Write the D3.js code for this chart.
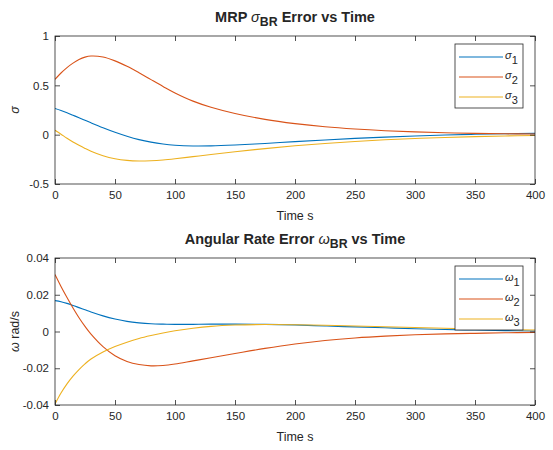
<!DOCTYPE html>
<html>
<head>
<meta charset="utf-8">
<script src="https://cdn.jsdelivr.net/npm/d3@7"></script>
<style>
  body { margin: 0; background: #fff; }
  text { font-family: "Liberation Sans", Arial, sans-serif; fill: #262626; }
</style>
</head>
<body>
<div id="chart"></div>
<script>
// time samples (s)
const timeS = [0, 5, 10, 15, 20, 25, 30, 40, 50, 60, 70, 80, 90, 100, 115, 130, 150, 175, 200, 225, 250, 275, 300, 325, 350, 375, 400];

// MRP error components
const sigma1 = [0.265, 0.245, 0.222, 0.197, 0.172, 0.146, 0.12, 0.07, 0.024, -0.016, -0.05, -0.076, -0.095, -0.107, -0.115, -0.114, -0.105, -0.089, -0.071, -0.054, -0.038, -0.025, -0.013, -0.004, 0.004, 0.009, 0.013];
const sigma2 = [0.56, 0.625, 0.68, 0.725, 0.762, 0.786, 0.797, 0.787, 0.748, 0.693, 0.628, 0.558, 0.489, 0.423, 0.34, 0.278, 0.215, 0.155, 0.112, 0.08, 0.057, 0.04, 0.028, 0.019, 0.013, 0.009, 0.006];
const sigma3 = [0.045, 0.005, -0.036, -0.074, -0.108, -0.139, -0.167, -0.213, -0.244, -0.261, -0.267, -0.264, -0.256, -0.244, -0.223, -0.201, -0.173, -0.141, -0.113, -0.089, -0.069, -0.052, -0.039, -0.028, -0.02, -0.013, -0.008];

// angular rate error components (rad/s)
const omega1 = [0.0168, 0.0162, 0.0153, 0.0142, 0.013, 0.0118, 0.0106, 0.0085, 0.0068, 0.0055, 0.0047, 0.0042, 0.004, 0.0039, 0.0039, 0.004, 0.004, 0.0039, 0.0036, 0.003, 0.0025, 0.002, 0.0015, 0.0011, 0.0008, 0.0005, 0.0003];
const omega2 = [0.031, 0.0245, 0.0185, 0.0128, 0.0075, 0.0028, -0.0014, -0.0082, -0.0132, -0.0163, -0.018, -0.0187, -0.0185, -0.0177, -0.016, -0.0143, -0.012, -0.0092, -0.0068, -0.0049, -0.0035, -0.0025, -0.0018, -0.0013, -0.001, -0.0007, -0.0005];
const omega3 = [-0.0395, -0.0335, -0.0285, -0.0243, -0.0207, -0.0176, -0.015, -0.0112, -0.0082, -0.0058, -0.0038, -0.0022, -0.0008, 0.0004, 0.0018, 0.0028, 0.0035, 0.0038, 0.0037, 0.0034, 0.003, 0.0026, 0.0022, 0.0018, 0.0014, 0.0011, 0.0008];

const xTicks = [0, 50, 100, 150, 200, 250, 300, 350, 400];
const sigmaTicks = [-0.5, 0, 0.5, 1];
const omegaTicks = [-0.04, -0.02, 0, 0.02, 0.04];

const colors = ["#0072BD", "#D95319", "#EDB120"];

const W = 553, H = 450;
const left = 55, right = 535;

const svg = d3.select("#chart")
  .append("svg")
  .attr("width", W)
  .attr("height", H);

// writes "sym" + subscript into a text node
function symSub(sel, sym, sub) {
  sel.append("tspan").text(sym)
    .style("font-style", "italic")
    .style("font-weight", "normal");
  sel.append("tspan").text(sub)
    .attr("baseline-shift", "-35%")
    .style("font-size", "0.85em");
}

function drawPanel(p) {
  const x = d3.scaleLinear().domain([0, 400]).range([left, right]);
  const y = d3.scaleLinear().domain(p.yDomain).range([p.bottom, p.top]);

  const g = svg.append("g");

  g.append("clipPath").attr("id", p.id + "-clip")
    .append("rect")
    .attr("x", left).attr("y", p.top)
    .attr("width", right - left).attr("height", p.bottom - p.top);

  // series
  const line = d3.line()
    .x((d, i) => x(timeS[i]))
    .y(d => y(d))
    .curve(d3.curveCatmullRom.alpha(0.5));

  g.append("g")
    .attr("clip-path", `url(#${p.id}-clip)`)
    .selectAll("path")
    .data(p.series)
    .enter()
    .append("path")
    .attr("d", d => line(d))
    .attr("fill", "none")
    .attr("stroke", (d, i) => colors[i])
    .attr("stroke-width", 1.1);

  // axes, ticks inward on all four sides
  const tickLen = 5;
  const fmt = d => String(d);

  const xb = g.append("g")
    .attr("transform", `translate(0,${p.bottom})`)
    .call(d3.axisBottom(x).tickValues(xTicks).tickFormat(fmt).tickSizeInner(-tickLen).tickSizeOuter(0).tickPadding(7));
  const xt = g.append("g")
    .attr("transform", `translate(0,${p.top})`)
    .call(d3.axisTop(x).tickValues(xTicks).tickFormat("").tickSizeInner(-tickLen).tickSizeOuter(0));
  const yl = g.append("g")
    .attr("transform", `translate(${left},0)`)
    .call(d3.axisLeft(y).tickValues(p.yTicks).tickFormat(fmt).tickSizeInner(-tickLen).tickSizeOuter(0).tickPadding(6));
  const yr = g.append("g")
    .attr("transform", `translate(${right},0)`)
    .call(d3.axisRight(y).tickValues(p.yTicks).tickFormat("").tickSizeInner(-tickLen).tickSizeOuter(0));

  [xb, xt, yl, yr].forEach(a => {
    a.select(".domain").remove();
    a.selectAll("line").attr("stroke", "#262626").attr("stroke-width", 0.8);
    a.selectAll("text")
      .style("font-family", "'Liberation Sans', Arial, sans-serif")
      .style("font-size", "11.5px")
      .attr("fill", "#262626");
  });

  g.append("rect")
    .attr("x", left).attr("y", p.top)
    .attr("width", right - left).attr("height", p.bottom - p.top)
    .attr("fill", "none")
    .attr("stroke", "#262626")
    .attr("stroke-width", 0.8);

  // title
  const title = g.append("text")
    .attr("x", (left + right) / 2)
    .attr("y", p.top - 14)
    .attr("text-anchor", "middle")
    .style("font-size", "14.5px")
    .style("font-weight", "bold")
    .attr("fill", "#000");
  title.append("tspan").text(p.title[0]);
  symSub(title, p.title[1], p.title[2]);
  title.append("tspan").text(p.title[3]);

  // axis labels
  g.append("text")
    .attr("x", (left + right) / 2)
    .attr("y", p.bottom + 36)
    .attr("text-anchor", "middle")
    .style("font-size", "12.5px")
    .text("Time s");

  g.append("text")
    .attr("transform", `translate(19,${(p.top + p.bottom) / 2}) rotate(-90)`)
    .attr("text-anchor", "middle")
    .style("font-size", "12.5px")
    .html(p.yLabel);

  // legend
  const lg = g.append("g").attr("transform", `translate(455,${p.top + 8})`);
  lg.append("rect")
    .attr("width", 68).attr("height", 64)
    .attr("fill", "#fff")
    .attr("stroke", "#262626")
    .attr("stroke-width", 0.8);
  p.series.forEach((s, i) => {
    const ly = 13 + i * 20;
    lg.append("line")
      .attr("x1", 4).attr("x2", 48)
      .attr("y1", ly).attr("y2", ly)
      .attr("stroke", colors[i])
      .attr("stroke-width", 1.1);
    const t = lg.append("text")
      .attr("x", 50).attr("y", ly + 2)
      .style("font-size", "11px");
    t.append("tspan").text(p.legendSym).style("font-style", "italic");
    t.append("tspan").text(String(i + 1)).attr("dy", 5).style("font-size", "11px");
  });
}

drawPanel({
  id: "mrp",
  top: 36, bottom: 184,
  yDomain: [-0.5, 1],
  yTicks: sigmaTicks,
  series: [sigma1, sigma2, sigma3],
  title: ["MRP ", "σ", "BR", " Error vs Time"],
  yLabel: "<tspan font-style='italic'>σ</tspan>",
  legendSym: "σ"
});

drawPanel({
  id: "rate",
  top: 258, bottom: 405,
  yDomain: [-0.04, 0.04],
  yTicks: omegaTicks,
  series: [omega1, omega2, omega3],
  title: ["Angular Rate Error ", "ω", "BR", " vs Time"],
  yLabel: "<tspan font-style='italic'>ω</tspan> rad/s",
  legendSym: "ω"
});
</script>
</body>
</html>
